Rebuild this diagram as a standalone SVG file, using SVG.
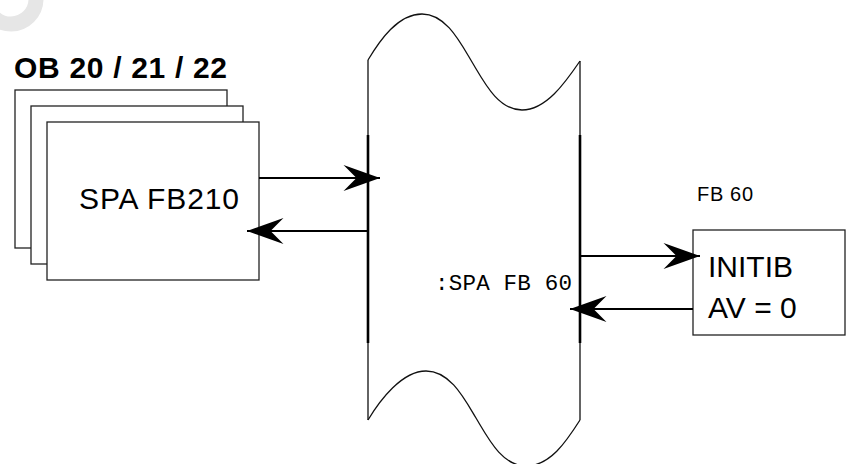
<svg xmlns="http://www.w3.org/2000/svg" width="846" height="464" viewBox="0 0 846 464">
<style>
.box{fill:#fff;stroke:#222;stroke-width:1.3}
.thin{fill:none;stroke:#111;stroke-width:1.3}
.thick{fill:none;stroke:#000;stroke-width:2.6}
.conn{fill:none;stroke:#000;stroke-width:2;marker-end:url(#ah)}
.sans{font-family:"Liberation Sans",Arial,sans-serif;fill:#000}
.mono{font-family:"Liberation Mono","Courier New",monospace;fill:#000}
</style>
<defs>
<marker id="ah" markerUnits="userSpaceOnUse" markerWidth="40" markerHeight="30" viewBox="-32 -12 34 24" refX="0" refY="0" orient="auto">
<path d="M0,0 L-31,-11 L-20,0 L-31,11 Z" fill="#000"/>
</marker>
</defs>
<rect width="846" height="464" fill="#fff"/>
<circle cx="11" cy="-1" r="25" fill="none" stroke="#e6e6e6" stroke-width="15"/>

<g id="ob-stack">
<text class="sans" x="14" y="78" font-size="30" font-weight="bold" textLength="213" lengthAdjust="spacing">OB 20 / 21 / 22</text>
<rect class="box" x="15" y="90" width="212" height="158"/>
<rect class="box" x="31" y="106" width="212" height="158"/>
<rect class="box" x="47" y="122" width="212" height="158"/>
<text class="sans" x="79" y="209" font-size="30" textLength="160" lengthAdjust="spacing">SPA FB210</text>
</g>

<g id="tape">
<path class="thin" d="M368,60 C380,40 398,14 422,14 C446,14 460,42 472,62 C484,82 498,110 522,110 C546,110 565,83 580,61"/>
<path class="thin" d="M368,60 V135 M580,61 V135"/>
<path class="thick" d="M368,135 V343 M580,135 V343"/>
<path class="thin" d="M368,343 V420 M580,343 V420"/>
<path class="thin" d="M368,420 C380,400 402,371 426,371 C450,371 464,398 476,418 C488,438 502,466 526,466 C550,466 566,442 580,420"/>
<text class="mono" x="435" y="290" font-size="22.5" textLength="137" lengthAdjust="spacing">:SPA FB 60</text>
</g>

<g id="fb60">
<text class="sans" x="697" y="201" font-size="20" textLength="56" lengthAdjust="spacing">FB 60</text>
<rect class="box" x="693" y="230" width="152" height="105"/>
<text class="sans" x="708" y="277" font-size="30">INITIB</text>
<text class="sans" x="708" y="318" font-size="30">AV = 0</text>
</g>

<g id="connectors">
<line class="conn" x1="259" y1="178" x2="380" y2="178"/>
<line class="conn" x1="369" y1="231" x2="247" y2="231"/>
<line class="conn" x1="581" y1="256" x2="700" y2="256"/>
<line class="conn" x1="693" y1="309" x2="570" y2="309"/>
</g>
</svg>
